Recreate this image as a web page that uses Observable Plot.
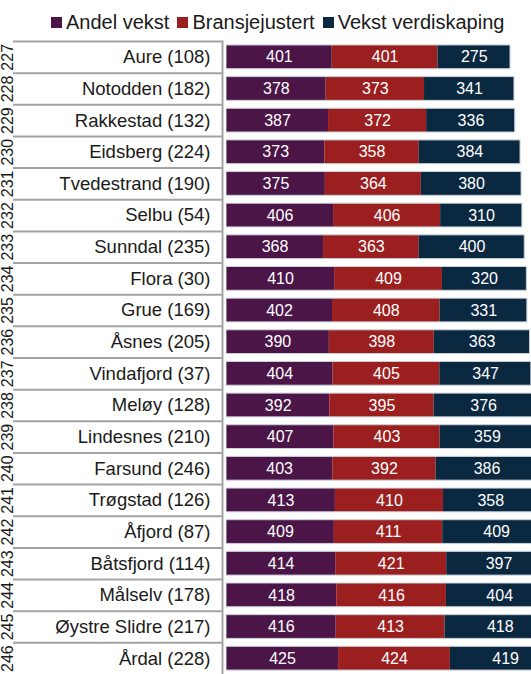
<!DOCTYPE html>
<html>
<head>
<meta charset="utf-8">
<script src="https://cdn.jsdelivr.net/npm/d3@7"></script>
<script src="https://cdn.jsdelivr.net/npm/@observablehq/plot@0.6"></script>
<style>
  html, body { margin: 0; padding: 0; background: #fff; font-family: "Liberation Sans", Arial, sans-serif; }
  #wrap { width: 531px; height: 674px; overflow: hidden; position: relative; }
  #legend { position: absolute; left: 51px; top: 12px; height: 20px; display: flex; align-items: center; font-size: 20px; line-height: 20px; color: #1a1a1a; white-space: nowrap; }
  .item { display: flex; align-items: center; margin-right: 8px; }
  .sw { width: 11px; height: 11px; margin-right: 4px; display: inline-block; }
  #left { position: absolute; left: 0; top: 40px; width: 226px; height: 634px; }
  #right { position: absolute; left: 226px; top: 40px; width: 305px; height: 634px; overflow: hidden; }
  #left svg, #right svg { display: block; max-width: none !important; }
</style>
</head>
<body>
<div id="wrap">
  <div id="legend"></div>
  <div id="left"></div>
  <div id="right"></div>
</div>
<script>
const ranks = [227,228,229,230,231,232,233,234,235,236,237,238,239,240,241,242,243,244,245,246];
const municipalities = ["Aure (108)","Notodden (182)","Rakkestad (132)","Eidsberg (224)","Tvedestrand (190)","Selbu (54)","Sunndal (235)","Flora (30)","Grue (169)","Åsnes (205)","Vindafjord (37)","Meløy (128)","Lindesnes (210)","Farsund (246)","Trøgstad (126)","Åfjord (87)","Båtsfjord (114)","Målselv (178)","Øystre Slidre (217)","Årdal (228)"];
const series = ["Andel vekst","Bransjejustert","Vekst verdiskaping"];
const colors = ["#4b1548","#9b1f1f","#0a2840"];
const andelVekst      = [401,378,387,373,375,406,368,410,402,390,404,392,407,403,413,409,414,418,416,425];
const bransjejustert  = [401,373,372,358,364,406,363,409,408,398,405,395,403,392,410,411,421,416,413,424];
const vekstVerdiskap  = [275,341,336,384,380,310,400,320,331,363,347,376,359,386,358,409,397,404,418,419];

const seriesValues = [andelVekst, bransjejustert, vekstVerdiskap];
const data = [];
series.forEach((s, si) => municipalities.forEach((m, i) => data.push({name: m, series: s, value: seriesValues[si][i]})));
const totals = municipalities.map((m, i) => ({name: m, total: andelVekst[i] + bransjejustert[i] + vekstVerdiskap[i]}));

// legend
const legend = document.getElementById("legend");
series.forEach((s, i) => {
  const it = document.createElement("div");
  it.className = "item";
  it.innerHTML = `<span class="sw" style="background:${colors[i]}"></span><span>${s}</span>`;
  legend.appendChild(it);
});

const H = 634, MT = 1, MB = 0;
const step = (H - MT - MB) / municipalities.length;
const font = "Liberation Sans, Arial, sans-serif";

const left = Plot.plot({
  width: 226, height: H,
  marginLeft: 13, marginRight: 4, marginTop: MT, marginBottom: MB,
  style: {fontFamily: font, background: "white", maxWidth: "none"},
  x: {axis: null},
  y: {domain: municipalities, padding: 0, round: false, axis: null},
  marks: [
    Plot.cell(municipalities, {y: d => d, fill: "white"}),
    Plot.ruleY(municipalities, {y: d => d, dy: -step / 2, stroke: "#a3a3a3", strokeWidth: 2}),
    Plot.frame({anchor: "right", stroke: "#a3a3a3", strokeWidth: 2}),
    Plot.text(municipalities, {y: d => d, text: d => d, frameAnchor: "right", dx: -12, textAnchor: "end", fontSize: 18.5, fill: "#1a1a1a"}),
    Plot.text(municipalities, {y: d => d, text: (d, i) => String(ranks[i]), frameAnchor: "left", dx: -5.5, textAnchor: "middle", lineAnchor: "middle", rotate: -90, fontSize: 16, fill: "#1a1a1a"})
  ]
});
document.getElementById("left").appendChild(left);

const pxPerUnit = 0.2637;
const right = Plot.plot({
  width: 305, height: H,
  marginLeft: 0, marginRight: 0, marginTop: MT, marginBottom: MB,
  style: {fontFamily: font, background: "white", maxWidth: "none"},
  x: {domain: [0, 305 / pxPerUnit], axis: null},
  y: {domain: municipalities, paddingInner: 0.25, paddingOuter: 0.125, round: false, axis: null},
  color: {domain: series, range: colors},
  marks: [
    Plot.barX(data, Plot.stackX({x: "value", y: "name", fill: "series"})),
    Plot.barX(totals, {x: "total", y: "name", fill: "none", stroke: "#c9d0d8", strokeWidth: 1}),
    Plot.text(data, Plot.stackX({x: "value", y: "name", text: d => String(d.value), fill: "white", fontSize: 16}))
  ]
});
document.getElementById("right").appendChild(right);
</script>
</body>
</html>
